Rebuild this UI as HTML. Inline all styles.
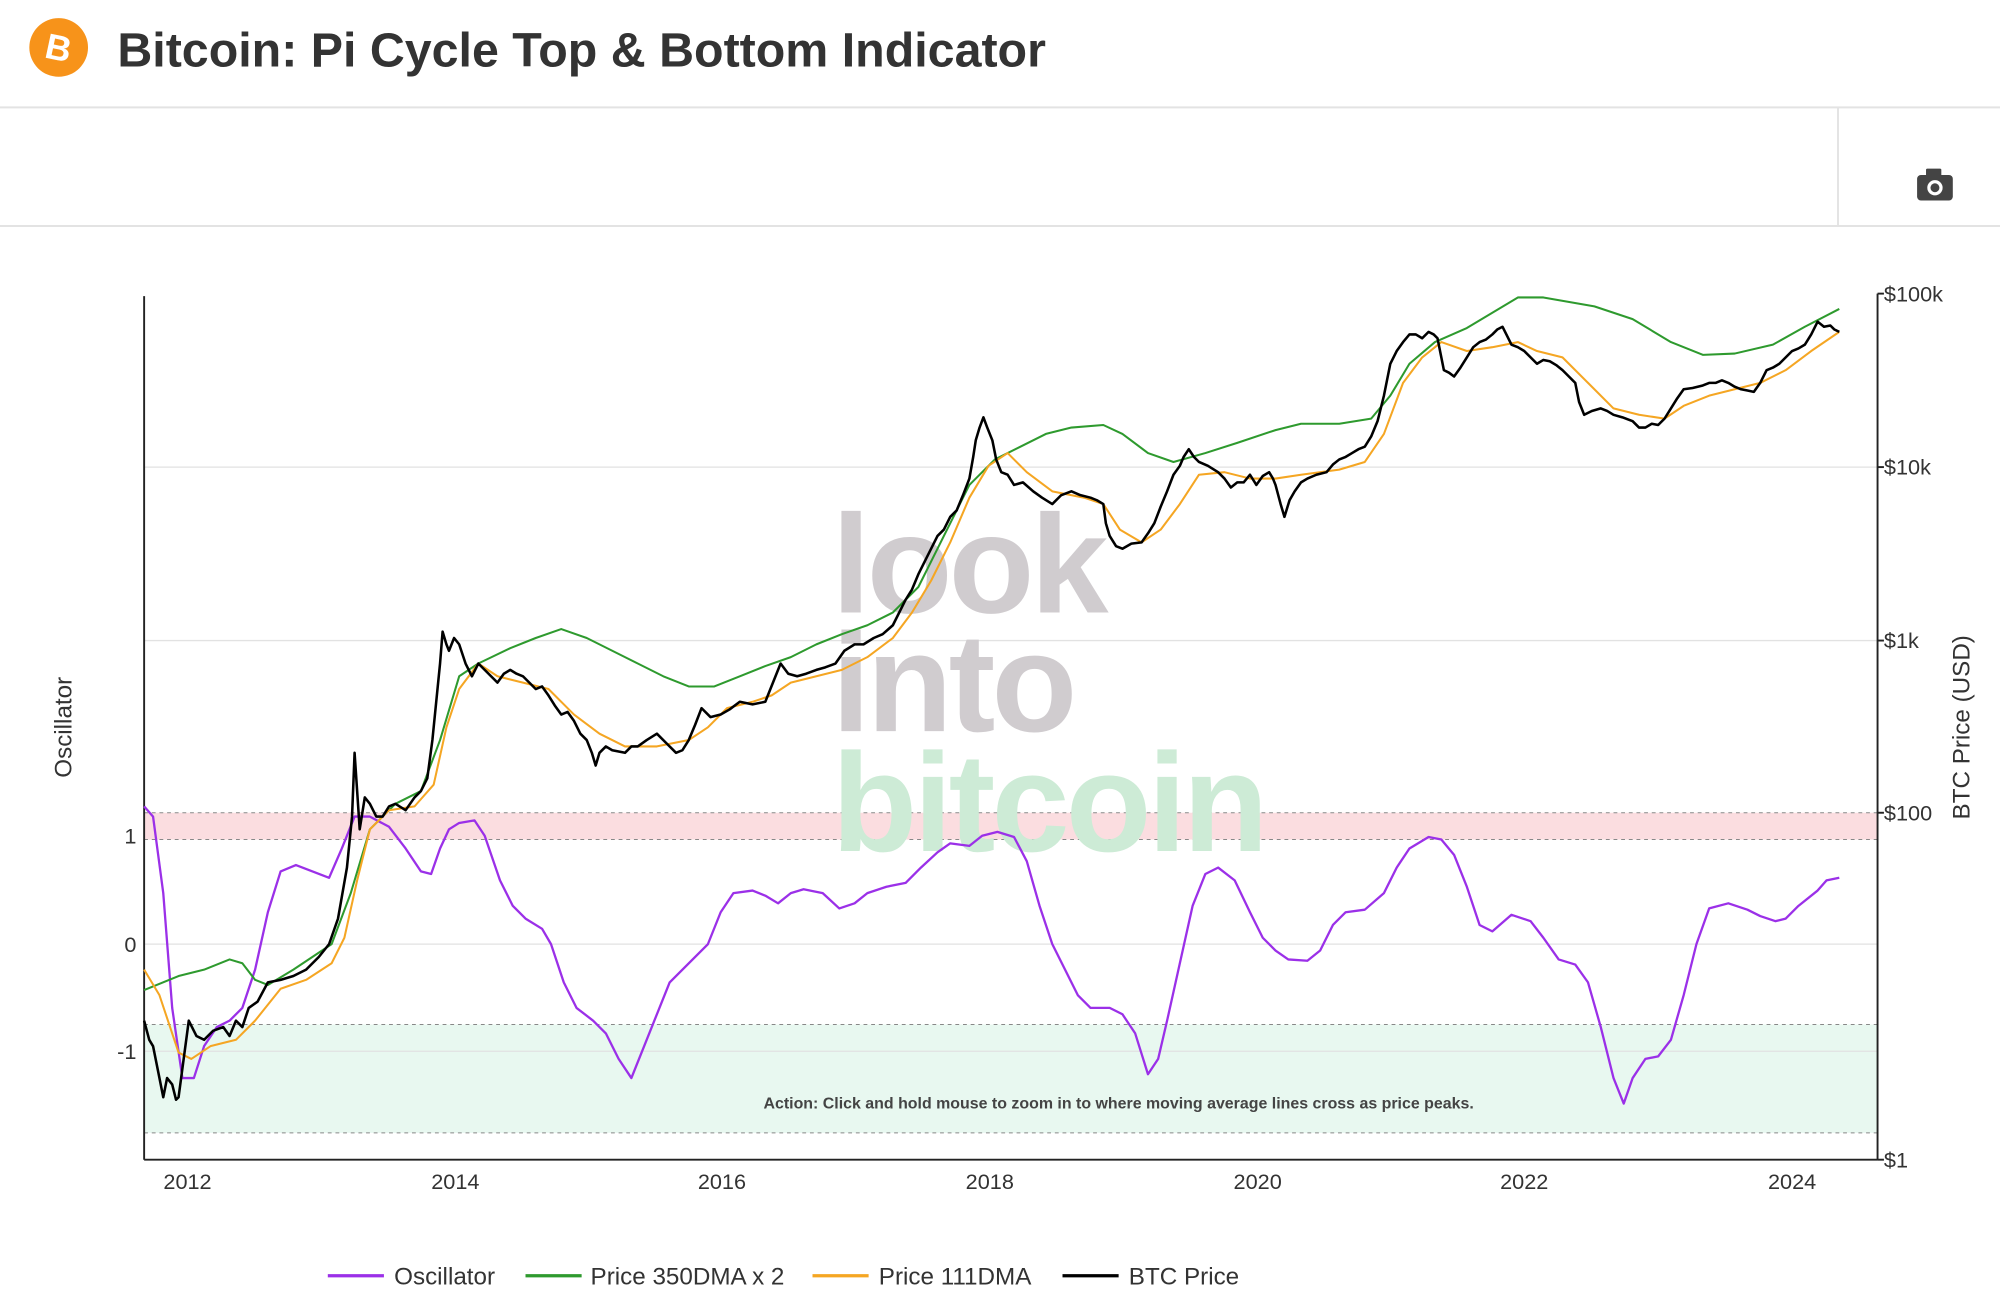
<!DOCTYPE html>
<html><head><meta charset="utf-8"><style>
html,body{margin:0;padding:0;background:#fff;width:2000px;height:1313px;overflow:hidden}
svg{display:block}
</style></head><body>
<svg width="2000" height="1313" viewBox="0 0 1568 1029" xmlns="http://www.w3.org/2000/svg" font-family="Liberation Sans, sans-serif">
<rect width="1568" height="1029" fill="#fff"/>
<!-- header -->
<circle cx="46" cy="37" r="23" fill="#F7931A"/>
<text x="46" y="47" font-size="28" font-weight="bold" fill="#fff" text-anchor="middle" transform="rotate(12 46 37)">B</text>
<text x="92" y="52" font-size="38" font-weight="bold" fill="#333" textLength="728" lengthAdjust="spacingAndGlyphs">Bitcoin: Pi Cycle Top &amp; Bottom Indicator</text>
<line x1="0" y1="84" x2="1568" y2="84" stroke="#e3e3e3" stroke-width="1.5"/>
<line x1="0" y1="177" x2="1568" y2="177" stroke="#e3e3e3" stroke-width="1.5"/>
<line x1="1441" y1="84" x2="1441" y2="177" stroke="#e3e3e3" stroke-width="1.5"/>
<!-- camera -->
<rect x="1503" y="137" width="28" height="20" rx="3" fill="#444"/>
<rect x="1510" y="132" width="12" height="6" rx="1" fill="#444"/>
<circle cx="1517" cy="147" r="6" fill="#fff"/><circle cx="1517" cy="147" r="3.5" fill="#444"/>
<!-- bands -->
<rect x="113" y="637" width="1359" height="21" fill="#fbdde0"/>
<rect x="113" y="803" width="1359" height="85" fill="#e8f8f0"/>
<g stroke="#888" stroke-dasharray="3,3" stroke-width="0.8">
<line x1="113" y1="637" x2="1472" y2="637"/><line x1="113" y1="658" x2="1472" y2="658"/>
<line x1="113" y1="803" x2="1472" y2="803"/><line x1="113" y1="888" x2="1472" y2="888"/>
</g>
<!-- grid -->
<g stroke="#e2e2e2" stroke-width="1">
<line x1="113" y1="366" x2="1472" y2="366"/><line x1="113" y1="502" x2="1472" y2="502"/>
<line x1="113" y1="740" x2="1472" y2="740"/><line x1="113" y1="824" x2="1472" y2="824"/>
</g>
<!-- watermark -->
<g font-weight="bold" font-size="110" letter-spacing="-3">
<text x="652" y="480" fill="#d0cccf">look</text>
<text x="652" y="573" fill="#d0cccf">into</text>
<text x="652" y="667" fill="#cdebd6">bitcoin</text>
</g>
<!-- axes -->
<g stroke="#222" stroke-width="1.5">
<line x1="113" y1="232" x2="113" y2="909"/>
<line x1="1472" y1="230" x2="1472" y2="909"/>
<line x1="113" y1="909" x2="1472" y2="909"/>
<line x1="1472" y1="230" x2="1477" y2="230"/><line x1="1472" y1="366" x2="1477" y2="366"/>
<line x1="1472" y1="502" x2="1477" y2="502"/><line x1="1472" y1="637" x2="1477" y2="637"/>
<line x1="1472" y1="909" x2="1477" y2="909"/>
</g>
<g font-size="17" fill="#333">
<text x="1477" y="236">$100k</text><text x="1477" y="372">$10k</text>
<text x="1477" y="508">$1k</text><text x="1477" y="643">$100</text><text x="1477" y="915">$1</text>
<text x="107" y="661" text-anchor="end">1</text><text x="107" y="746" text-anchor="end">0</text><text x="107" y="830" text-anchor="end">-1</text>
<g text-anchor="middle"><text x="147" y="932">2012</text><text x="357" y="932">2014</text><text x="566" y="932">2016</text><text x="776" y="932">2018</text><text x="986" y="932">2020</text><text x="1195" y="932">2022</text><text x="1405" y="932">2024</text></g>
</g>
<text transform="translate(56 570) rotate(-90)" font-size="19" fill="#333" text-anchor="middle">Oscillator</text>
<text transform="translate(1544 570) rotate(-90)" font-size="19" fill="#333" text-anchor="middle">BTC Price (USD)</text>
<text x="877" y="869" font-size="12.5" font-weight="bold" fill="#444" text-anchor="middle">Action: Click and hold mouse to zoom in to where moving average lines cross as price peaks.</text>
<!-- series -->
<g fill="none" stroke-linejoin="round">
<polyline stroke="#9b30e8" stroke-width="1.8" points="113,632 120,640 128,700 135,790 143,845 152,845 160,820 170,805 180,800 190,790 200,760 210,715 220,683 232,678 245,683 258,688 268,665 278,640 290,640 305,648 318,665 330,683 338,685 345,665 352,650 360,645 372,643 380,655 392,690 402,710 412,720 425,728 432,740 442,770 452,790 465,800 475,810 485,830 495,845 505,820 515,795 525,770 540,755 555,740 565,715 575,700 590,698 600,702 610,708 620,700 630,697 645,700 658,712 670,708 680,700 695,695 710,692 722,680 735,668 745,661 760,663 770,655 782,652 795,656 805,675 815,710 825,740 835,760 845,780 855,790 870,790 880,795 890,810 900,842 908,830 915,800 925,755 935,710 945,685 955,680 968,690 980,715 990,735 1000,745 1010,752 1025,753 1035,745 1045,725 1055,715 1070,713 1085,700 1095,680 1105,665 1120,656 1130,658 1140,670 1150,695 1160,725 1170,730 1185,717 1200,722 1210,735 1222,752 1235,756 1245,770 1255,805 1265,845 1273,865 1280,845 1290,830 1300,828 1310,815 1320,780 1330,740 1340,712 1355,708 1370,713 1380,718 1392,722 1400,720 1410,710 1425,698 1432,690 1442,688"/>
<polyline stroke="#2e9a2e" stroke-width="1.6" points="113,776 140,765 160,760 180,752 190,755 200,768 210,772 230,760 260,740 275,700 290,650 310,630 330,620 345,580 360,530 375,520 400,508 420,500 440,493 460,500 480,510 500,520 520,530 540,538 560,538 580,530 600,522 620,515 640,505 660,497 680,490 700,480 720,460 740,420 760,380 780,360 800,350 820,340 840,335 865,333 880,340 900,355 920,362 945,355 970,347 1000,337 1020,332 1050,332 1075,328 1090,310 1105,285 1125,268 1150,257 1170,245 1190,233 1210,233 1250,240 1280,250 1310,268 1335,278 1360,277 1390,270 1415,256 1442,242"/>
<polyline stroke="#f5a623" stroke-width="1.6" points="113,760 125,780 140,825 150,830 165,820 185,815 200,800 220,775 240,768 260,755 270,735 280,690 290,650 305,635 325,632 340,615 350,570 360,540 375,520 390,530 410,535 430,540 450,560 470,575 490,585 515,585 540,580 555,570 570,555 590,550 605,545 620,535 640,530 660,525 680,515 700,500 715,480 730,455 745,425 760,390 775,365 790,355 805,370 825,385 850,390 865,395 878,415 895,425 910,415 925,395 940,372 960,370 980,375 1000,375 1020,372 1050,368 1070,362 1085,340 1100,300 1115,280 1130,268 1150,275 1170,272 1190,268 1205,275 1225,280 1245,300 1265,320 1285,325 1305,328 1320,318 1340,310 1360,305 1380,300 1400,290 1420,275 1442,260"/>
<polyline stroke="#000" stroke-width="2" points="113,800 117,815 120,820 124,840 128,860 131,845 135,850 138,862 140,860 144,830 148,800 154,812 160,815 167,808 175,805 180,812 185,800 190,805 195,790 202,785 210,770 220,768 230,765 240,760 250,750 258,740 265,720 272,680 276,640 278,590 280,620 282,650 286,625 290,630 295,640 300,640 305,632 310,630 318,635 325,625 330,620 335,610 339,580 342,550 345,520 347,495 350,505 352,510 356,500 360,505 365,520 370,530 375,520 380,525 385,530 390,535 395,528 400,525 405,528 410,530 415,535 420,540 425,538 430,545 435,553 440,560 445,558 450,565 455,575 460,580 464,590 467,600 470,590 475,585 480,588 490,590 495,585 500,585 507,580 515,575 522,582 530,590 535,588 540,580 545,568 550,555 557,562 565,560 572,556 580,550 590,552 600,550 606,535 612,520 618,528 625,530 632,528 640,525 647,523 655,520 662,510 670,505 677,505 685,500 692,497 700,490 705,480 710,470 715,462 720,450 725,440 730,430 735,420 740,415 745,405 750,400 755,388 760,375 763,358 765,345 768,335 771,327 774,335 778,345 781,360 785,370 790,372 795,380 802,378 810,385 817,390 825,395 832,388 840,385 847,388 855,390 860,392 865,395 867,410 870,420 875,428 880,430 887,426 895,425 900,418 905,410 910,397 915,385 920,372 925,365 928,358 932,352 936,358 940,362 947,365 955,370 960,375 965,382 970,378 975,378 980,372 985,380 990,373 995,370 998,375 1000,380 1004,395 1007,405 1011,392 1015,385 1020,378 1025,375 1032,372 1040,370 1045,364 1050,360 1055,358 1060,355 1065,352 1070,350 1075,342 1080,330 1085,310 1090,285 1095,275 1100,268 1105,262 1110,262 1115,265 1120,260 1124,262 1127,265 1130,280 1132,290 1136,292 1140,295 1145,288 1150,280 1155,272 1160,268 1165,266 1170,262 1174,258 1178,256 1181,262 1185,270 1190,272 1195,275 1200,280 1205,285 1210,282 1215,283 1220,286 1225,290 1230,295 1235,300 1238,315 1242,325 1248,322 1255,320 1260,322 1265,325 1272,327 1280,330 1285,335 1290,335 1295,332 1300,333 1305,328 1310,320 1315,312 1320,305 1327,304 1335,302 1340,300 1345,300 1350,298 1355,300 1360,303 1365,305 1370,306 1375,307 1380,300 1385,290 1390,288 1395,285 1400,280 1405,275 1410,273 1415,270 1420,262 1425,252 1430,256 1435,255 1438,258 1442,260"/>
</g>
<!-- legend -->
<g font-size="19" fill="#333">
<line x1="257" y1="1000" x2="301" y2="1000" stroke="#9b30e8" stroke-width="2.5"/><text x="309" y="1007">Oscillator</text>
<line x1="412" y1="1000" x2="456" y2="1000" stroke="#2e9a2e" stroke-width="2.5"/><text x="463" y="1007">Price 350DMA x 2</text>
<line x1="637" y1="1000" x2="681" y2="1000" stroke="#f5a623" stroke-width="2.5"/><text x="689" y="1007">Price 111DMA</text>
<line x1="833" y1="1000" x2="877" y2="1000" stroke="#000" stroke-width="2.5"/><text x="885" y="1007">BTC Price</text>
</g>
</svg>
</body></html>
